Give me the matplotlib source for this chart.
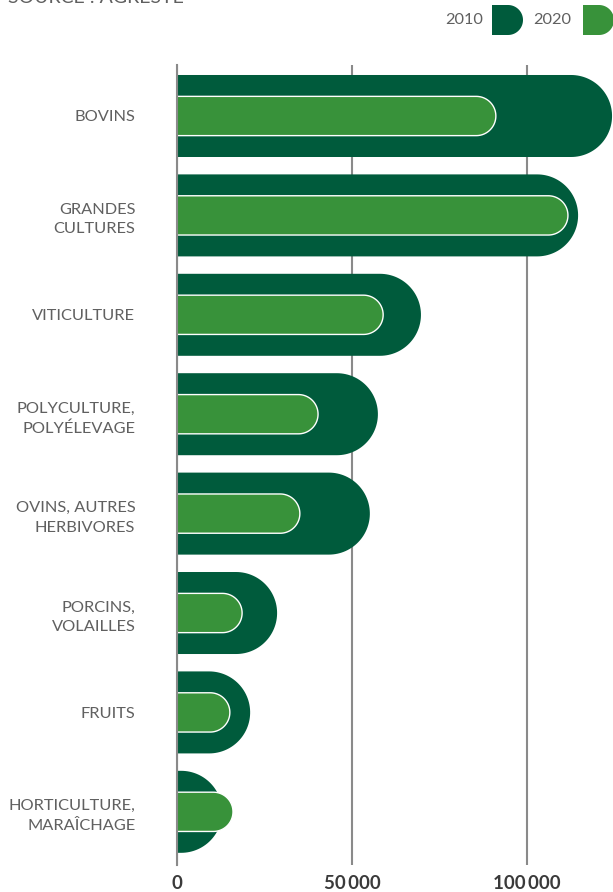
import numpy as np
import matplotlib.pyplot as plt
from matplotlib.patches import Polygon

plt.rcParams['font.family'] = ['Lato', 'DejaVu Sans']

# Data (number of farms, 2010 vs 2020)
categories = ["BOVINS", "GRANDES\nCULTURES", "VITICULTURE", "POLYCULTURE,\nPOLYÉLEVAGE",
              "OVINS, AUTRES\nHERBIVORES", "PORCINS,\nVOLAILLES", "FRUITS",
              "HORTICULTURE,\nMARAÎCHAGE"]
values_2010 = [124300, 114600, 69700, 57400, 55100, 28600, 20900, 12900]
values_2020 = [91100, 111700, 58900, 40300, 35100, 18600, 15100, 16000]
xticks = [0, 50000, 100000]
xtick_labels = ["0", "50\u2009000", "100\u2009000"]

dark = "#005b3c"
light = "#38923a"
grey_txt = "#606060"

W, H = 613, 892
fig = plt.figure(figsize=(W / 100, H / 100), dpi=100)

# main axes placed in pixel terms
left_px, right_px, top_px, bot_px = 177, 613, 65, 865
ax = fig.add_axes([left_px / W, 1 - bot_px / H, (right_px - left_px) / W, (bot_px - top_px) / H])
ax.set_xlim(0, 124571)
ax.set_ylim(7.535, -0.513)

def px_per_unit(ax):
    p0 = ax.transData.transform((0, 0))
    p1 = ax.transData.transform((1, 1))
    return abs(p1[0] - p0[0]), abs(p1[1] - p0[1])

sx, sy = px_per_unit(ax)

def round_bar(ax, y, v, h, **kw):
    # rectangle with a semicircular (in pixels) right end
    rx = (h / 2) * sy / sx
    t = np.linspace(-np.pi / 2, np.pi / 2, 60)
    cx = max(v - rx, 0)
    arc = np.column_stack([cx + rx * np.cos(t), y + (h / 2) * np.sin(t)])
    pts = np.vstack([[0, y - h / 2], arc, [0, y + h / 2]])
    ax.add_patch(Polygon(pts, closed=True, **kw))

y = np.arange(len(categories))
for i in range(len(categories)):
    round_bar(ax, y[i], values_2010[i], 0.825, facecolor=dark, edgecolor='none', zorder=2)
    round_bar(ax, y[i], values_2020[i], 0.395, facecolor=light, edgecolor='white',
              linewidth=1.0, zorder=3)

ax.set_yticks(y)
ax.set_yticklabels(categories, fontsize=11.8, color=grey_txt,
                   ha='right', linespacing=1.5)
ax.tick_params(axis='y', length=0, pad=30)
ax.set_xticks(xticks)
ax.set_xticklabels(xtick_labels, fontsize=13.5, fontweight='bold', color="#3a3a3a")
ax.tick_params(axis='x', length=0, pad=7)

ax.grid(axis='x', color="#8a8a8a", linewidth=1.5, zorder=1)
ax.set_axisbelow(True)
for s in ['top', 'right', 'bottom']:
    ax.spines[s].set_visible(False)
ax.spines['left'].set_color("#8a8a8a")
ax.spines['left'].set_linewidth(1.5)
ax.spines['left'].set_zorder(5)

# overlay in pixel coords for legend and source
ov = fig.add_axes([0, 0, 1, 1], zorder=-1)
ov.set_xlim(0, W)
ov.set_ylim(H, 0)
ov.axis('off')

def legend_swatch(x0, color):
    h, w = 30, 31
    r = h / 2
    t = np.linspace(-np.pi / 2, np.pi / 2, 40)
    arc = np.column_stack([x0 + w - r + r * np.cos(t), 20 + r * np.sin(t)])
    pts = np.vstack([[x0, 20 - r], arc, [x0, 20 + r]])
    ov.add_patch(Polygon(pts, closed=True, facecolor=color, edgecolor='none'))

ov.text(483, 20, "2010", ha='right', va='center', fontsize=11.8, color=grey_txt)
legend_swatch(492, dark)
ov.text(571, 20, "2020", ha='right', va='center', fontsize=11.8, color=grey_txt)
legend_swatch(583, light)

# source line, cut off at the top edge as in the original
ov.text(8, 3, "SOURCE : AGRESTE", ha='left', va='baseline', fontsize=14, color=grey_txt)

fig.savefig("out.png", dpi=100)
